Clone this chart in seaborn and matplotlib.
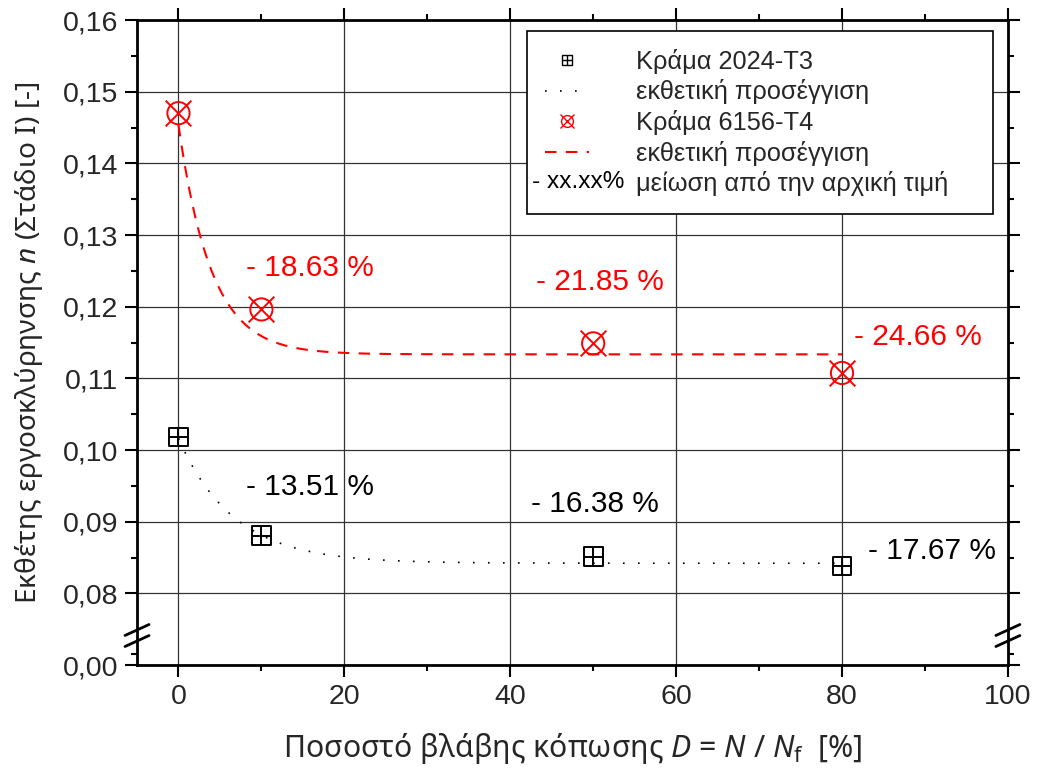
import numpy as np
import matplotlib
matplotlib.use("Agg")
import matplotlib.pyplot as plt
import matplotlib.text as mtext
from matplotlib.lines import Line2D
from matplotlib.legend_handler import HandlerBase
from matplotlib.ticker import FixedLocator, FixedFormatter
import seaborn as sns

# --- measured data -------------------------------------------------------
damage = [0, 10, 50, 80]                     # D = N / Nf [%]
n0_2024 = 0.1018                             # initial hardening exponent, 2024-T3
n0_6156 = 0.1470                             # initial hardening exponent, 6156-T4
drop_2024 = [13.51, 16.38, 17.67]            # reduction from initial value [%]
drop_6156 = [18.63, 21.85, 24.66]

# exponential fits  n = y0 + A * exp(-D / t)
fit_2024 = dict(y0=0.0842, A=0.0174, t=6.7)
fit_6156 = dict(y0=0.11335, A=0.0320, t=3.95)
fit_range = (0, 80)

ytick_values = [0.07, 0.08, 0.09, 0.10, 0.11, 0.12, 0.13, 0.14, 0.15, 0.16]
ytick_labels = ["0,00", "0,08", "0,09", "0,10", "0,11", "0,12", "0,13", "0,14", "0,15", "0,16"]
xtick_values = [0, 20, 40, 60, 80, 100]

n_2024 = [n0_2024] + [n0_2024 * (1 - p / 100) for p in drop_2024]
n_6156 = [n0_6156] + [n0_6156 * (1 - p / 100) for p in drop_6156]

# --- style ---------------------------------------------------------------
sns.set_style("ticks")
plt.rcParams["font.family"] = ["Liberation Sans", "DejaVu Sans"]
plt.rcParams["mathtext.fontset"] = "custom"
plt.rcParams["mathtext.rm"] = "Noto Sans"
plt.rcParams["mathtext.it"] = "Noto Sans:italic"

RED = "#ff0000"
fig = plt.figure(figsize=(10.38, 7.82), dpi=100)
ax = fig.add_axes([0.132, 0.1496, 0.839, 0.8248])

# fitted curves
xs = np.linspace(fit_range[0], fit_range[1], 400)
y_fit_2024 = fit_2024["y0"] + fit_2024["A"] * np.exp(-xs / fit_2024["t"])
y_fit_6156 = fit_6156["y0"] + fit_6156["A"] * np.exp(-xs / fit_6156["t"])
dotted = (0, (1, 8))
dashed = (0, (5.5, 4.5))
sns.lineplot(x=xs, y=y_fit_2024, color="black", lw=1.2, linestyle=dotted, ax=ax, zorder=3)
sns.lineplot(x=xs, y=y_fit_6156, color=RED, lw=1.5, linestyle=dashed, ax=ax, zorder=3)

# measured points: boxed plus (2024-T3), circled cross (6156-T4)
sns.scatterplot(x=damage, y=n_2024, marker="s", s=13.5 ** 2, facecolor="none",
                edgecolor="black", linewidth=1.4, ax=ax, zorder=4)
sns.scatterplot(x=damage, y=n_2024, marker="+", s=13.5 ** 2, color="black",
                linewidth=1.4, ax=ax, zorder=4)
sns.scatterplot(x=damage, y=n_6156, marker="o", s=16 ** 2, facecolor="none",
                edgecolor=RED, linewidth=1.4, ax=ax, zorder=4)
sns.scatterplot(x=damage, y=n_6156, marker="x", s=18.5 ** 2, color=RED,
                linewidth=1.4, ax=ax, zorder=4)

# reduction labels
offs_2024 = [(35, 35), (1, 38), (65, 11)]
offs_6156 = [(35, 30), (5, 44), (55, 26)]
for x, y, p, o in zip(damage[1:], n_2024[1:], drop_2024, offs_2024):
    ax.annotate(f"- {p:.2f} %", (x, y), xytext=o, textcoords="offset points",
                ha="center", va="center", fontsize=21.5, color="black")
for x, y, p, o in zip(damage[1:], n_6156[1:], drop_6156, offs_6156):
    ax.annotate(f"- {p:.2f} %", (x, y), xytext=o, textcoords="offset points",
                ha="center", va="center", fontsize=21.5, color=RED)

# axes, ticks, grid
ax.set_xlim(-5, 100)
ax.set_ylim(0.07, 0.16)
ax.xaxis.set_major_locator(FixedLocator(xtick_values))
ax.xaxis.set_minor_locator(FixedLocator([10, 30, 50, 70, 90]))
ax.yaxis.set_major_locator(FixedLocator(ytick_values))
ax.yaxis.set_major_formatter(FixedFormatter(ytick_labels))
ax.yaxis.set_minor_locator(FixedLocator([0.0715] + list(np.arange(0.085, 0.16, 0.01))))
ax.tick_params(which="both", direction="out", top=True, right=True,
               labelsize=20.5, width=1.5, color="black")
ax.tick_params(which="major", length=8.6, pad=5)
ax.tick_params(which="minor", length=4.3)
ax.grid(True, which="major", color="0.2", lw=0.9)
for s in ax.spines.values():
    s.set_linewidth(2.0)
    s.set_color("black")
    s.set_visible(True)

# axis break marks on both vertical spines
for xc in (0.0, 1.0):
    for yc in (0.0543, 0.0372):
        ax.plot([xc - 0.0138, xc + 0.0138], [yc - 0.0085, yc + 0.0085],
                transform=ax.transAxes, color="black", lw=2.0, clip_on=False, zorder=6)

ax.set_xlabel(r"Ποσοστό βλάβης κόπωσης $D$ = $N$ / $N_\mathrm{f}$  [%]",
              fontsize=21.8, family="Noto Sans", labelpad=15)
ax.set_ylabel(r"Εκθέτης εργοσκλύρηνσης $n$ (Στάδιο I) [-]",
              fontsize=20.2, family="Noto Sans", labelpad=13)


# legend: the last row carries a text sample instead of a symbol
class NoteHandle:
    def __init__(self, text):
        self.text = text


class NoteHandler(HandlerBase):
    def create_artists(self, legend, orig_handle, xdescent, ydescent,
                       width, height, fontsize, trans):
        t = mtext.Text(-xdescent - 0.5 * fontsize, -ydescent + height / 2,
                       orig_handle.text, ha="left", va="center",
                       fontsize=0.96 * fontsize, color="black", transform=trans)
        return [t]


h_2024 = (Line2D([], [], ls="none", marker="s", ms=7, mfc="none", mec="black", mew=1.0),
          Line2D([], [], ls="none", marker="+", ms=7, mec="black", mew=1.0))
h_fit_2024 = Line2D([], [], color="black", lw=1.2, linestyle=dotted)
h_6156 = (Line2D([], [], ls="none", marker="o", ms=8.5, mfc="none", mec=RED, mew=1.0),
          Line2D([], [], ls="none", marker="x", ms=10, mec=RED, mew=1.0))
h_fit_6156 = Line2D([], [], color=RED, lw=1.5, linestyle=dashed)
h_note = NoteHandle("- xx.xx%")

leg = ax.legend([h_2024, h_fit_2024, h_6156, h_fit_6156, h_note],
                ["Κράμα 2024-T3", "εκθετική προσέγγιση", "Κράμα 6156-T4",
                 "εκθετική προσέγγιση", "μείωση από την αρχική τιμή"],
                handler_map={NoteHandle: NoteHandler()},
                loc="upper left", bbox_to_anchor=(0.4478, 0.7039, 0.535, 0.279),
                mode="expand", borderaxespad=0, fontsize=18.3, frameon=True,
                fancybox=False, shadow=False, framealpha=1, edgecolor="black",
                borderpad=0.7, labelspacing=0.22, handlelength=1.75, handletextpad=1.83)
leg.get_frame().set_linewidth(1.2)
leg.set_zorder(10)

fig.savefig("out.png", dpi=100)
